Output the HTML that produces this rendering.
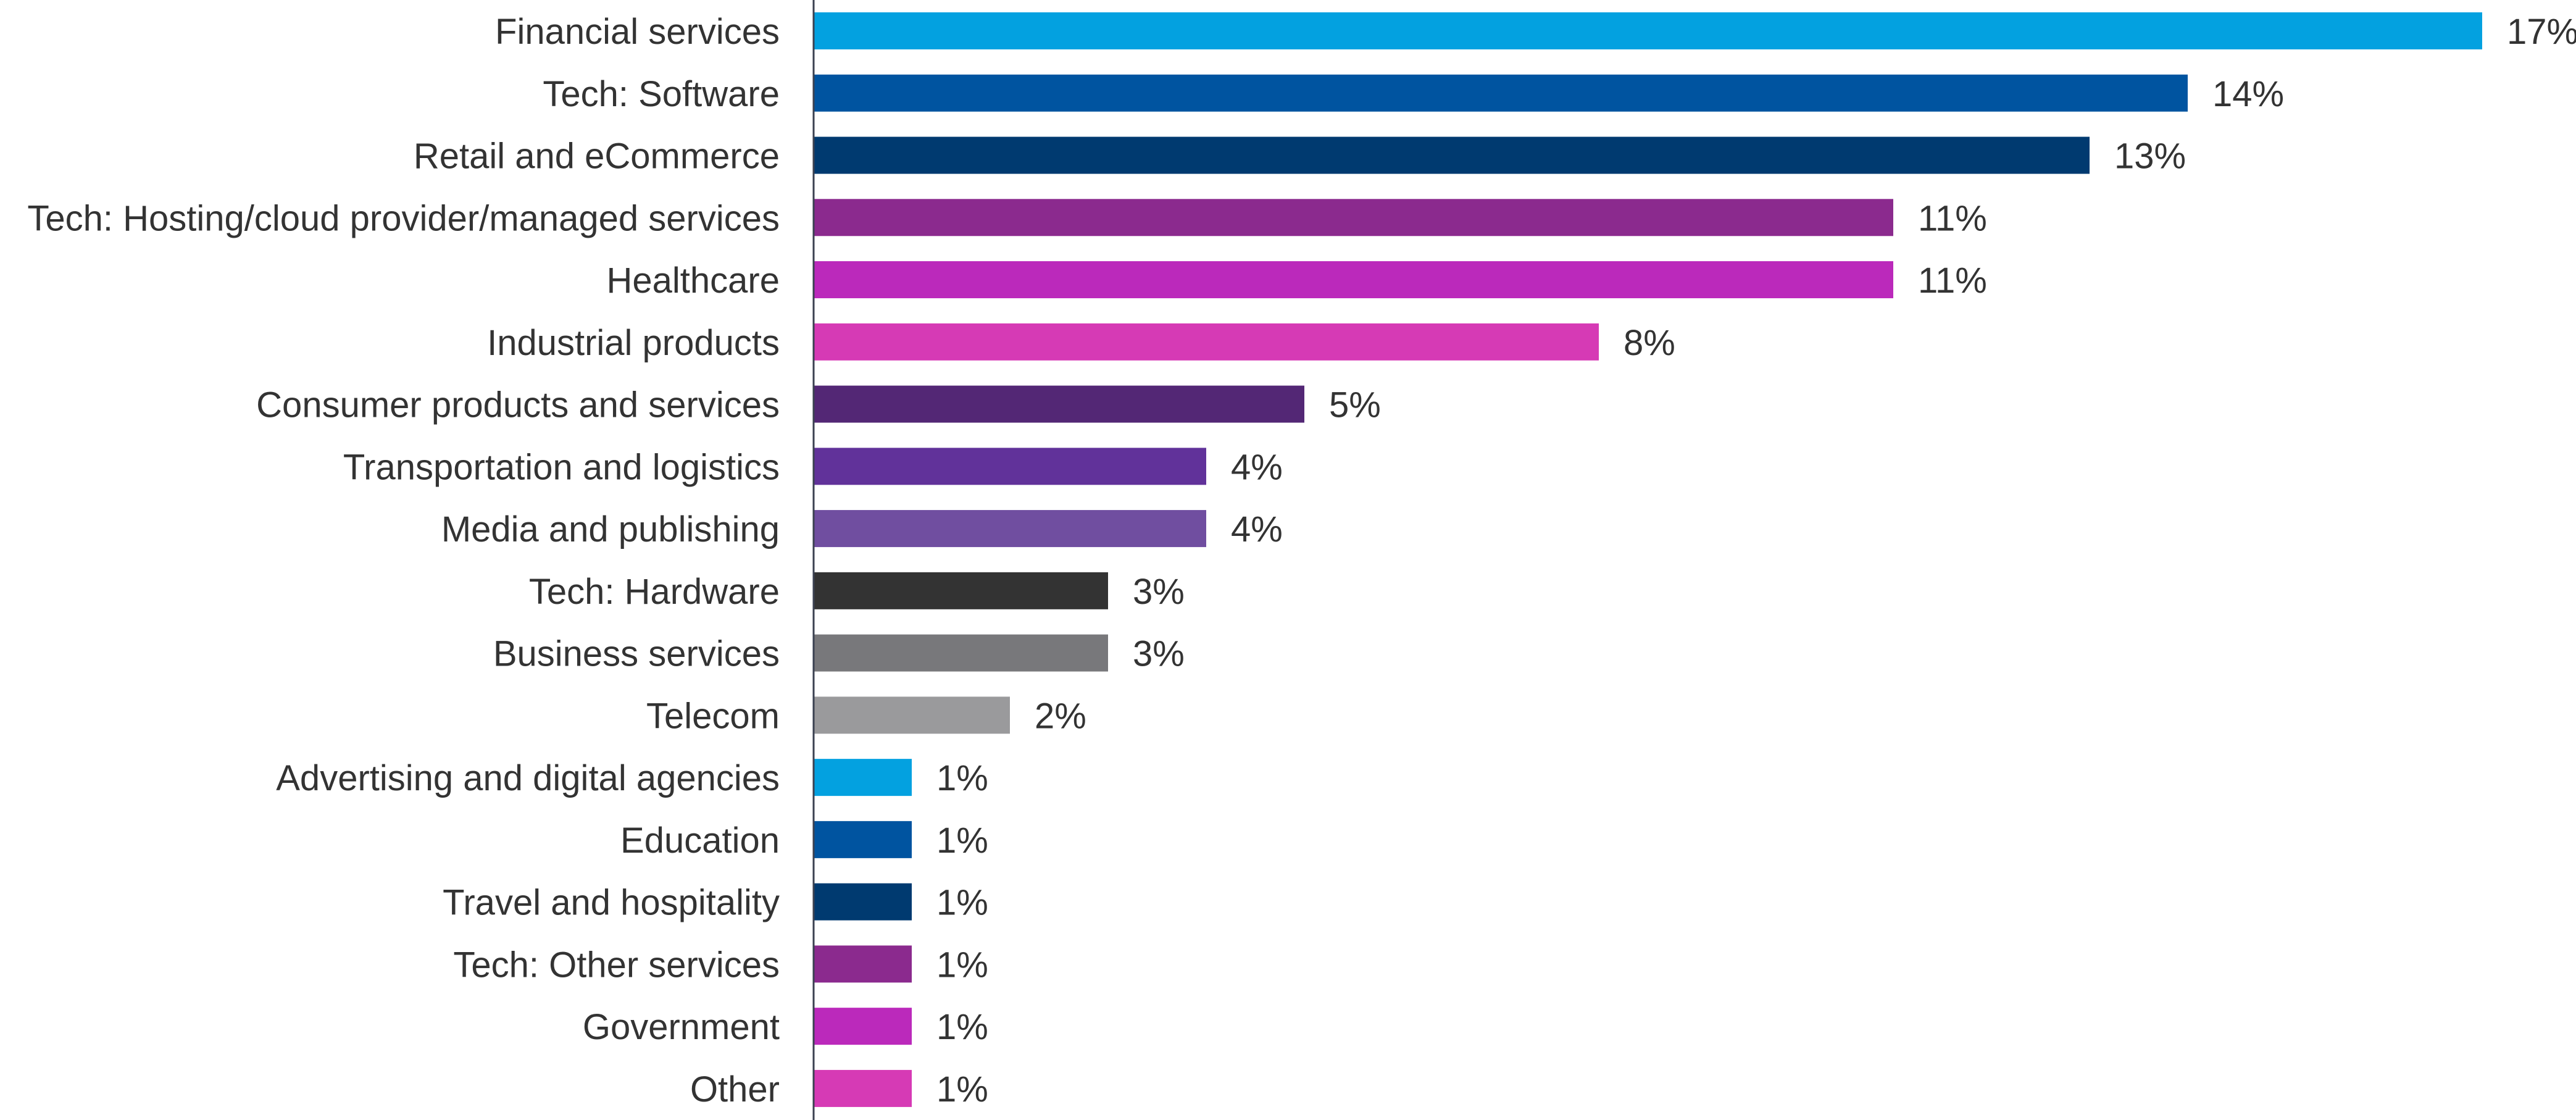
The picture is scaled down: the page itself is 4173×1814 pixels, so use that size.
<!DOCTYPE html>
<html><head><meta charset="utf-8"><style>
html,body{margin:0;padding:0;background:#fff;}
svg{display:block;font-family:"Liberation Sans",sans-serif;}
</style></head><body>
<svg id="chart" width="4173" height="1814" viewBox="0 0 4173 1814" xmlns="http://www.w3.org/2000/svg">
<g id="bars"></g>
<g id="labels"></g>
<g id="values"></g>
<line x1="1318" y1="0" x2="1318" y2="1814" stroke="#3a4050" stroke-width="3"/>
</svg>
<script>
const categories = ["Financial services","Tech: Software","Retail and eCommerce","Tech: Hosting/cloud provider/managed services","Healthcare","Industrial products","Consumer products and services","Transportation and logistics","Media and publishing","Tech: Hardware","Business services","Telecom","Advertising and digital agencies","Education","Travel and hospitality","Tech: Other services","Government","Other"];
const values = [17,14,13,11,11,8,5,4,4,3,3,2,1,1,1,1,1,1];
const valueLabels = ["17%","14%","13%","11%","11%","8%","5%","4%","4%","3%","3%","2%","1%","1%","1%","1%","1%","1%"];
const colors = ["#03a1e0","#0054a0","#003a70","#8b2a8e","#bb29bb","#d63ab5","#532775","#61329a","#704ea0","#333333","#78787b","#9a9a9c","#03a1e0","#0054a0","#003a70","#8b2a8e","#bb29bb","#d63ab5"];

const NS = "http://www.w3.org/2000/svg";
const x0 = 1318, perUnit = 159;
const top0 = 20, pitch = 100.76, barH = 60;
function xScale(v){ return x0 + v * perUnit; }
function yScale(i){ return top0 + i * pitch; }

const gb = document.getElementById('bars');
const gl = document.getElementById('labels');
const gv = document.getElementById('values');
categories.forEach((c, i) => {
  const y = yScale(i);
  const r = document.createElementNS(NS, 'rect');
  
  
  r.setAttribute('x', x0);
  r.setAttribute('y', y);
  r.setAttribute('width', xScale(values[i]) - x0);
  r.setAttribute('height', barH);
  r.setAttribute('fill', colors[i]);
  gb.appendChild(r);

  const t = document.createElementNS(NS, 'text');
  
  
  t.setAttribute('x', 1263);
  t.setAttribute('y', y + barH/2 + 21);
  t.setAttribute('text-anchor', 'end');
  t.setAttribute('font-size', '58');
  t.setAttribute('fill', '#333333');
  t.textContent = c;
  gl.appendChild(t);
  const len = t.getComputedTextLength();
  if (len > 1255) { t.setAttribute('textLength', 1255); t.setAttribute('lengthAdjust', 'spacingAndGlyphs'); }

  const v = document.createElementNS(NS, 'text');
  
  
  v.setAttribute('x', xScale(values[i]) + 40);
  v.setAttribute('y', y + barH/2 + 21);
  v.setAttribute('font-size', '58');
  v.setAttribute('fill', '#333333');
  v.textContent = valueLabels[i];
  gv.appendChild(v);
});
</script>
</body></html>
